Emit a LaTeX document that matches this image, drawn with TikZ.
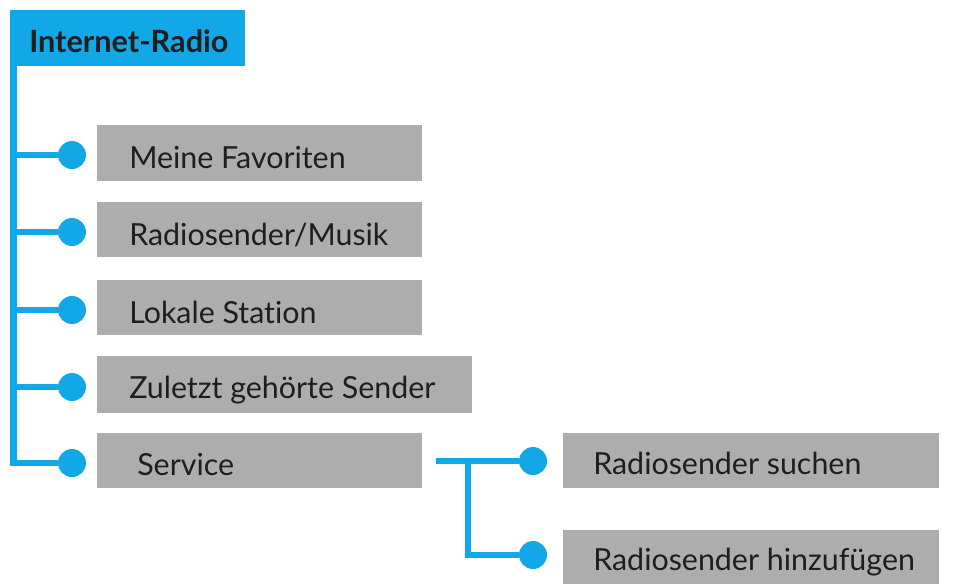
\documentclass[tikz,border=0pt]{standalone}
\usepackage{fontspec}
\setmainfont{Lato}[Ligatures={NoCommon,NoRare,NoDiscretionary}]
\definecolor{ablue}{HTML}{12A7E6}
\definecolor{agray}{HTML}{ADADAD}
\definecolor{atext}{HTML}{1E1E1E}
\tikzset{
  bl/.style={draw=ablue, line width=5.2pt},
  dot/.style={circle, fill=ablue, minimum size=21pt, inner sep=0pt},
  gbox/.style={fill=agray, draw=none},
  lbl/.style={anchor=base west, inner sep=0pt, text=atext, font=\fontsize{22.8}{26}\selectfont},
}
\begin{document}
\begin{tikzpicture}[x=0.75pt, y=-0.75pt]
\useasboundingbox (0,0) rectangle (959,587);
% header
\fill[ablue] (10,10) rectangle (245,66);
\node[anchor=base west, inner sep=0pt, text=atext, font=\bfseries\fontsize{23}{26}\selectfont] (hdr) at (29,52) {Internet-Radio};
% boxes
\fill[gbox] (97,125) rectangle (422,181);
\fill[gbox] (97,202) rectangle (422,257);
\fill[gbox] (97,280) rectangle (422,335);
\fill[gbox] (97,356) rectangle (472,413);
\fill[gbox] (97,433) rectangle (422,488);
\fill[gbox] (563,433) rectangle (939,488);
\fill[gbox] (563,530) rectangle (939,584);
% labels
\node[lbl] (t1) at (129,168) {Meine Favoriten};
\node[lbl] (t2) at (129,245) {Radiosender/Musik};
\node[lbl] (t3) at (129,323) {Lokale Station};
\node[lbl] (t4) at (129,398) {Zuletzt gehörte Sender};
\node[lbl] (t5) at (137,475) {Service};
\node[lbl] (t6) at (593,474) {Radiosender suchen};
\node[lbl] (t7) at (593,570) {Radiosender hinzufügen};
% dots
\node[dot] (d1) at (72,155) {};
\node[dot] (d2) at (72,232) {};
\node[dot] (d3) at (72,310) {};
\node[dot] (d4) at (72,387) {};
\node[dot] (d5) at (72,463) {};
\node[dot] (e1) at (533,461) {};
\node[dot] (e2) at (533,555) {};
% connectors
\coordinate (top) at (13.5,62);
\coordinate (s0) at (436,461);
\coordinate (j) at (468,461);
\draw[bl] (top) |- (d5);
\draw[bl] (top |- d1) -- (d1);
\draw[bl] (top |- d2) -- (d2);
\draw[bl] (top |- d3) -- (d3);
\draw[bl] (top |- d4) -- (d4);
\draw[bl] (s0) -- (e1);
\draw[bl] (j) |- (e2);
\end{tikzpicture}
\end{document}
